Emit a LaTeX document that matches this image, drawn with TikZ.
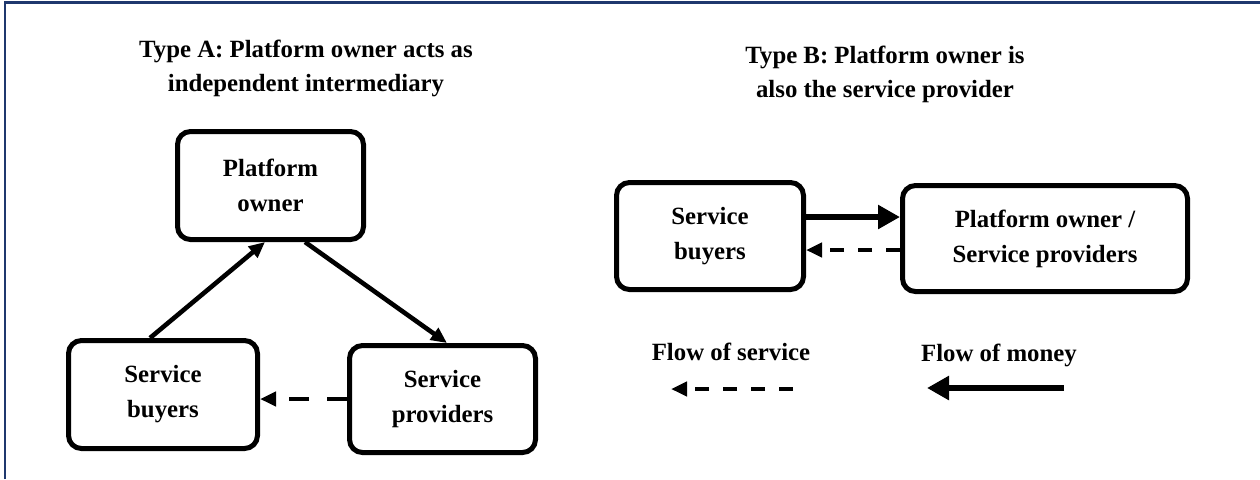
\documentclass[tikz,border=0pt]{standalone}
\usepackage{fontspec}
\setmainfont{Liberation Serif}
\usepackage{tikz}
\usetikzlibrary{arrows.meta,calc}
\definecolor{framebl}{RGB}{31,56,110}
\tikzset{>={Triangle[length=8pt,width=7pt]}}
\tikzset{
  box/.style={draw,line width=2.5pt,rounded corners=6.5pt,align=center,inner sep=0pt,
    font=\bfseries\fontsize{12.4}{17.5}\selectfont},
  ttl/.style={align=center,inner sep=0pt,font=\bfseries\fontsize{12.4}{17}\selectfont},
  flow/.style={line width=2.3pt,->},
  svc/.style={line width=2pt,dash pattern=on 7pt off 7pt,->},
  money/.style={line width=3.3pt,-{Triangle[length=11pt,width=11.5pt]}}
}

\begin{document}
\begin{tikzpicture}[x=0.5pt,y=-0.5pt]
    \useasboundingbox (0,0) rectangle (1260,479);
    \draw[framebl,line width=1.2pt] (5,479)--(5,2.5)--(1260,2.5);
    % type A
    \node[ttl,anchor=north] (ttlA) at (306,40) {Type A: Platform owner acts as\\independent intermediary};
    \node[box,minimum width=93pt,minimum height=54pt] (ownA) at (270.5,185.5) {Platform\\owner};
    \node[box,minimum width=94.5pt,minimum height=54pt] (buyA) at (163,394.5) {Service\\buyers};
    \node[box,minimum width=93pt,minimum height=53.5pt] (provA) at (442.5,399) {Service\\providers};
    \draw[flow] ([xshift=42pt]buyA.north west)--([xshift=45pt]ownA.south west);
    \draw[flow] ([xshift=65pt]ownA.south west)--([xshift=50pt]provA.north west);
    \draw[svc,dash pattern=on 10pt off 9pt] (provA.west)--(provA.west -| buyA.east);
    % type B
    \node[ttl,anchor=north] (ttlB) at (885,46) {Type B: Platform owner is\\also the service provider};
    \node[box,minimum width=93.5pt,minimum height=53.5pt] (buyB) at (710,236) {Service\\buyers};
    \node[box,minimum width=142.5pt,minimum height=53pt] (ownB) at (1045,238.5) {Platform owner /\\Service providers};
    \draw[money] ([yshift=9.5pt]buyB.east)--([yshift=9.5pt]buyB.east -| ownB.west);
    \draw[svc] ([yshift=-7pt]buyB.east -| ownB.west)--([yshift=-7pt]buyB.east);
    % legend
    \node[ttl,anchor=base] (svcLbl) at (731,360) {Flow of service};
    \node[ttl,anchor=base] (monLbl) at (999,361) {Flow of money};
    \coordinate (svcTail) at (793,389);
    \coordinate (svcHead) at (671,389);
    \coordinate (monTail) at (1064,388);
    \coordinate (monHead) at (927,388);
    \draw[svc] (svcTail)--(svcHead);
    \draw[money] (monTail)--(monHead);
\end{tikzpicture}
\end{document}
